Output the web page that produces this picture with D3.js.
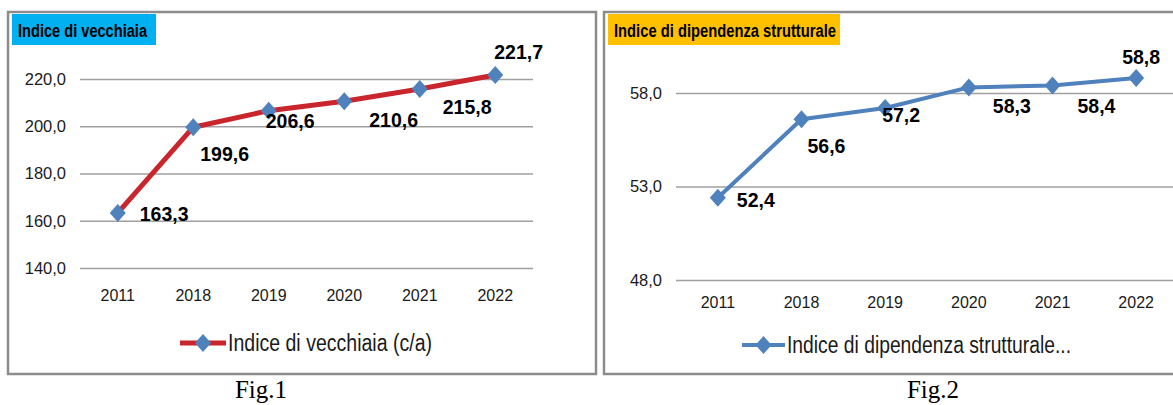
<!DOCTYPE html>
<html><head><meta charset="utf-8">
<script src="https://cdn.jsdelivr.net/npm/d3@7"></script>
<style>
html,body{margin:0;padding:0;background:#fff;}
svg{display:block;}
</style>
</head><body>
<svg id="chart" width="1173" height="405"></svg>
<script>
// ---- data ----
const years = ["2011","2018","2019","2020","2021","2022"];
const vecchiaia = [163.3, 199.6, 206.6, 210.6, 215.8, 221.7];
const dipendenza = [52.4, 56.6, 57.2, 58.3, 58.4, 58.8];
const ticksVecchiaia = [140, 160, 180, 200, 220];
const ticksDipendenza = [48, 53, 58];
const title1 = "Indice di vecchiaia";
const title2 = "Indice di dipendenza strutturale";
const legend1 = "Indice di vecchiaia (c/a)";
const legend2 = "Indice di dipendenza strutturale...";
const caption1 = "Fig.1";
const caption2 = "Fig.2";

// ---- drawing ----
const svg = d3.select("#chart");
const NUM = "'Liberation Sans', Arial, sans-serif";
const TXT = "'Liberation Sans Narrow', 'Arial Narrow', 'Liberation Sans', sans-serif";
const fmt = v => d3.format(".1f")(v).replace(".", ",");

function diamond(g, x, y, color) {
  g.append("path")
    .attr("d", `M${x},${y-9}L${x+8},${y}L${x},${y+9}L${x-8},${y}Z`)
    .attr("fill", color);
}

function panel(cfg) {
  const g = svg.append("g");
  // frame
  g.append("rect").attr("x", cfg.frame[0]).attr("y", cfg.frame[1])
    .attr("width", cfg.frame[2]).attr("height", cfg.frame[3])
    .attr("fill", "#fff").attr("stroke", "#8c8c8c").attr("stroke-width", 2.5);
  // title box
  g.append("rect").attr("x", cfg.titleBox[0]).attr("y", cfg.titleBox[1])
    .attr("width", cfg.titleBox[2]).attr("height", cfg.titleBox[3])
    .attr("fill", cfg.titleColor);
  g.append("text").attr("x", cfg.titleBox[0] + 6).attr("y", cfg.titleBox[1] + 23)
    .attr("font-family", TXT).attr("font-weight", "bold").attr("font-size", 18)
    .attr("textLength", cfg.titleLen).attr("lengthAdjust", "spacingAndGlyphs")
    .attr("fill", "#000").text(cfg.title);

  const x = d3.scaleBand().domain(years).range(cfg.xRange).padding(0);
  const y = d3.scaleLinear().domain(cfg.yDomain).range(cfg.yRange);

  // gridlines + y labels via axis
  const yAxis = d3.axisLeft(y).tickValues(cfg.ticks)
    .tickSize(-(cfg.xRange[1] - cfg.xRange[0])).tickPadding(14).tickFormat(fmt);
  const ya = g.append("g").attr("transform", `translate(${cfg.xRange[0]},0)`).call(yAxis);
  ya.select(".domain").remove();
  ya.selectAll(".tick line").attr("stroke", "#a0a0a0").attr("stroke-width", 1.6);
  ya.selectAll(".tick text").attr("font-family", NUM).attr("font-size", cfg.tickSize)
    .attr("fill", "#1a1a1a");

  // x labels
  const xAxis = d3.axisBottom(x).tickSize(0).tickPadding(0);
  const xa = g.append("g").attr("transform", `translate(0,${cfg.yearY})`).call(xAxis);
  xa.select(".domain").remove();
  xa.selectAll(".tick text").attr("font-family", NUM).attr("font-size", 16)
    .attr("fill", "#1a1a1a").attr("dy", "0.35em");

  const cx = d => x(d) + x.bandwidth() / 2;
  const line = d3.line().x((d, i) => cx(years[i])).y(d => y(d));
  g.append("path").datum(cfg.values).attr("d", line)
    .attr("fill", "none").attr("stroke", cfg.lineColor)
    .attr("stroke-width", cfg.lineWidth).attr("stroke-linejoin", "round");
  cfg.values.forEach((v, i) => diamond(g, cx(years[i]), y(v), "#4f81bd"));

  // data labels
  cfg.values.forEach((v, i) => {
    const o = cfg.labelOffsets[i];
    g.append("text").attr("x", cx(years[i]) + o[0]).attr("y", y(v) + o[1])
      .attr("dy", "0.35em").attr("font-family", NUM).attr("font-weight", "bold")
      .attr("font-size", 19.5).attr("fill", "#000").text(fmt(v));
  });

  // legend
  const L = cfg.legend;
  g.append("line").attr("x1", L.x0).attr("x2", L.x1).attr("y1", L.y).attr("y2", L.y)
    .attr("stroke", cfg.lineColor).attr("stroke-width", cfg.lineWidth);
  diamond(g, (L.x0 + L.x1) / 2, L.y, "#4f81bd");
  g.append("text").attr("x", L.x1 + 2).attr("y", L.y).attr("dy", "0.36em")
    .attr("font-family", TXT).attr("font-size", 23)
    .attr("textLength", L.len).attr("lengthAdjust", "spacingAndGlyphs")
    .attr("fill", "#1a1a1a").text(cfg.legendText);

  // caption
  svg.append("text").attr("x", cfg.caption[0]).attr("y", cfg.caption[1])
    .attr("text-anchor", "middle").attr("font-family", "'Liberation Serif', 'Times New Roman', serif")
    .attr("font-size", 25).attr("fill", "#000").text(cfg.captionText);
}

panel({
  frame: [8, 12, 588, 362],
  titleBox: [12, 14, 144, 31], titleColor: "#00b0f0", title: title1, titleLen: 129,
  xRange: [80, 533], yDomain: [140, 220], yRange: [268, 79], ticks: ticksVecchiaia,
  tickSize: 16.5, yearY: 295,
  values: vecchiaia, lineColor: "#c9252c", lineWidth: 5,
  labelOffsets: [[22, 1], [7, 27], [-3, 11], [25, 19], [23, 18], [-1, -23]],
  legend: { x0: 180, x1: 226, y: 343, len: 204 }, legendText: legend1,
  caption: [261, 398], captionText: caption1
});

panel({
  frame: [604, 12, 600, 362],
  titleBox: [608, 14, 232, 31], titleColor: "#ffc000", title: title2, titleLen: 222,
  xRange: [676, 1178], yDomain: [48, 58], yRange: [280, 93], ticks: ticksDipendenza,
  tickSize: 16.5, yearY: 302,
  values: dipendenza, lineColor: "#4f81bd", lineWidth: 4,
  labelOffsets: [[19, 2], [6, 27], [-3, 7], [24, 19], [25, 21], [-14, -21]],
  legend: { x0: 742, x1: 785, y: 345, len: 284 }, legendText: legend2,
  caption: [933, 398], captionText: caption2
});
</script>
</body></html>
